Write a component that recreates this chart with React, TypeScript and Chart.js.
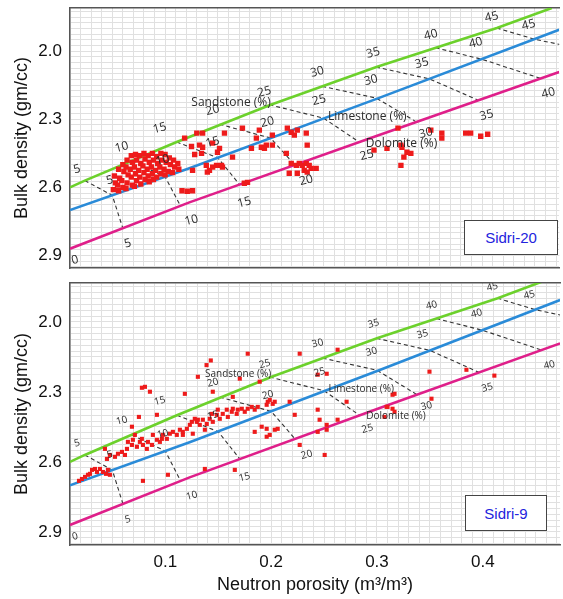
import React, { useEffect, useRef } from 'react';
import { Chart, registerables } from 'chart.js';

Chart.register(...registerables);
Chart.defaults.font.family = "'Liberation Sans', Arial, sans-serif";

// ---------- axes ----------
const X_MIN = 0.01;
const X_MAX = 0.473;
const TOP_Y_RANGE = [1.81, 2.955];
const BOTTOM_Y_RANGE = [1.833, 2.956];
const X_TICK_LABELS = [0.1, 0.2, 0.3, 0.4];
const X_MAJOR_GRID = [0.05, 0.1, 0.15, 0.2, 0.25, 0.3, 0.35, 0.4, 0.45];
const Y_TICK_LABELS = [2.0, 2.3, 2.6, 2.9];
const Y_MAJOR_GRID = [1.9, 2.0, 2.1, 2.2, 2.3, 2.4, 2.5, 2.6, 2.7, 2.8, 2.9];
const X_MINOR_STEP = 0.01;
const Y_MINOR_STEP = 0.025;

// ---------- lithology lines ----------
const SANDSTONE_LINE_X = [0.01, 0.024, 0.111, 0.2, 0.3, 0.414, 0.466];
const SANDSTONE_LINE_Y = [2.6, 2.57, 2.4, 2.236, 2.07, 1.898, 1.81];
const LIMESTONE_LINE_X = [0.01, 0.123, 0.302, 0.473];
const LIMESTONE_LINE_Y = [2.7, 2.516, 2.207, 1.906];
const DOLOMITE_LINE_X = [0.01, 0.123, 0.302, 0.473];
const DOLOMITE_LINE_Y = [2.87, 2.666, 2.37, 2.092];

// ---------- iso-porosity points ----------
const POROSITY = [5, 10, 15, 20, 25, 30, 35, 40, 45];
const ISO_SAND_X = [0.024, 0.0685, 0.111, 0.1515, 0.1987, 0.2487, 0.2996, 0.356, 0.4138];
const ISO_SAND_Y = [2.57, 2.485, 2.4, 2.322, 2.236, 2.155, 2.07, 1.985, 1.898];
const ISO_LIME_X = [0.05, 0.1, 0.15, 0.2, 0.25, 0.3, 0.35, 0.4, 0.45];
const ISO_LIME_Y = [2.635, 2.553, 2.47, 2.383, 2.295, 2.207, 2.122, 2.036, 1.948];
const ISO_DOLO_X = [0.06, 0.1138, 0.17, 0.222, 0.2836, 0.338, 0.397, 0.456, 0.52];
const ISO_DOLO_Y = [2.78, 2.675, 2.585, 2.498, 2.4, 2.312, 2.217, 2.121, 2.015];

// ---------- scale labels ----------
const SAND_LABEL_X = [0.0166, 0.059, 0.0949, 0.1449, 0.194, 0.244, 0.2968, 0.3515, 0.409];
const SAND_LABEL_Y = [2.52, 2.423, 2.339, 2.26, 2.18, 2.092, 2.008, 1.929, 1.85];
const LIME_LABEL_X = [0.0477, 0.0977, 0.1449, 0.1968, 0.2458, 0.2949, 0.343, 0.394, 0.444];
const LIME_LABEL_Y = [2.569, 2.48, 2.401, 2.313, 2.216, 2.128, 2.053, 1.964, 1.885];
const DOLO_LABEL_TEXT = ['0', '5', '10', '15', '20', '25', '30', '35', '40'];
const DOLO_LABEL_X = [0.0147, 0.0647, 0.125, 0.175, 0.2336, 0.291, 0.3468, 0.4043, 0.4628];
const DOLO_LABEL_Y = [2.92, 2.847, 2.745, 2.666, 2.569, 2.458, 2.361, 2.282, 2.185];
const LITHO_NAMES = ['Sandstone (%)', 'Limestone (%)', 'Dolomite (%)'];
const LITHO_X = [0.2, 0.2542, 0.2899];
const LITHO_Y = [2.225, 2.287, 2.405];
const LITHO_ALIGN = ['right', 'left', 'left'];

// ---------- samples: Sidri-20 ----------
const SIDRI20_X = [
  0.052, 0.053, 0.051,
  0.056, 0.057, 0.055, 0.056,
  0.060, 0.061, 0.059, 0.060,
  0.064, 0.063, 0.065, 0.064, 0.063,
  0.068, 0.069, 0.067, 0.068, 0.069,
  0.072, 0.073, 0.071, 0.072, 0.073, 0.071,
  0.076, 0.077, 0.075, 0.076, 0.077,
  0.080, 0.081, 0.079, 0.080, 0.081,
  0.084, 0.085, 0.083, 0.084, 0.085,
  0.088, 0.089, 0.087, 0.088, 0.089,
  0.092, 0.093, 0.091, 0.092,
  0.096, 0.097, 0.095, 0.096,
  0.100, 0.101, 0.099, 0.100,
  0.104, 0.105, 0.103,
  0.108, 0.109, 0.107,
  0.112, 0.113,
  0.116, 0.121, 0.126,
  0.1185, 0.130, 0.1355, 0.1326, 0.1355, 0.1345, 0.145, 0.1515, 0.1496, 0.1562,
  0.126, 0.139, 0.142, 0.145, 0.1487, 0.1534, 0.1543, 0.140, 0.125, 0.128,
  0.1638, 0.1732, 0.1817, 0.1864, 0.1892, 0.1911, 0.194, 0.1958, 0.2015, 0.2015,
  0.2157, 0.2194, 0.2223, 0.2251, 0.2336, 0.2345, 0.2147,
  0.2194, 0.2242, 0.227, 0.2298, 0.2336, 0.2364, 0.2383, 0.243, 0.2175, 0.2251, 0.2317, 0.2345,
  0.175, 0.178,
  0.2977, 0.31, 0.3204, 0.3232, 0.3242, 0.3232, 0.326, 0.3289, 0.3326,
  0.3515, 0.3619, 0.3619, 0.3845, 0.3892, 0.3987, 0.4053,
];
const SIDRI20_Y = [
  2.55, 2.58, 2.61,
  2.52, 2.56, 2.59, 2.615,
  2.50, 2.53, 2.57, 2.60,
  2.48, 2.51, 2.545, 2.58, 2.605,
  2.46, 2.49, 2.52, 2.555, 2.59,
  2.455, 2.48, 2.51, 2.54, 2.57, 2.595,
  2.46, 2.495, 2.525, 2.555, 2.585,
  2.45, 2.475, 2.505, 2.535, 2.565,
  2.46, 2.49, 2.52, 2.55, 2.575,
  2.45, 2.48, 2.51, 2.54, 2.565,
  2.465, 2.495, 2.525, 2.555,
  2.45, 2.48, 2.51, 2.54,
  2.455, 2.49, 2.52, 2.545,
  2.47, 2.50, 2.53,
  2.48, 2.51, 2.535,
  2.495, 2.52,
  2.615, 2.617, 2.615,
  2.383, 2.361, 2.361, 2.414, 2.423, 2.45, 2.405, 2.428, 2.445, 2.361,
  2.525, 2.503, 2.525, 2.511, 2.503, 2.503, 2.511, 2.533, 2.42, 2.455,
  2.467, 2.339, 2.428, 2.383, 2.348, 2.423, 2.428, 2.414, 2.414, 2.37,
  2.339, 2.357, 2.37, 2.348, 2.361, 2.414, 2.45,
  2.494, 2.503, 2.494, 2.503, 2.494, 2.503, 2.516, 2.516, 2.538, 2.538, 2.525, 2.533,
  2.582, 2.578,
  2.436, 2.428, 2.339, 2.414, 2.423, 2.503, 2.467, 2.445, 2.45,
  2.348, 2.361, 2.383, 2.361, 2.361, 2.375, 2.366,
];

// ---------- samples: Sidri-9 ----------
const SIDRI9_X = [
  0.0185, 0.0213, 0.0242, 0.027, 0.0289, 0.0308, 0.0336, 0.0355, 0.0383, 0.0411, 0.044, 0.0458, 0.0477,
  0.0449, 0.0477, 0.0525, 0.043, 0.0553, 0.0591, 0.0619, 0.0638, 0.0647, 0.0685, 0.0694, 0.0713, 0.0732,
  0.076, 0.0779, 0.0789, 0.0826, 0.0836, 0.0874, 0.0883, 0.0921, 0.0949, 0.0968, 0.0977, 0.1015, 0.1043,
  0.1072, 0.1109, 0.1138, 0.1166, 0.1204, 0.1232, 0.1251, 0.1279, 0.1308,
  0.0751, 0.0921, 0.0779, 0.0808, 0.0855, 0.0685, 0.1025, 0.0789, 0.1185, 0.1308,
  0.139, 0.143, 0.1779, 0.1704, 0.1449, 0.1638,
  0.1166, 0.126, 0.1298, 0.1326, 0.1355, 0.1374, 0.1392, 0.142, 0.144, 0.1449, 0.1487, 0.1496, 0.1515,
  0.1543, 0.1581, 0.1591, 0.1628, 0.1638, 0.1675, 0.1685, 0.1723, 0.1751, 0.1779, 0.1817, 0.1845, 0.1874,
  0.1958, 0.1968, 0.1987, 0.2015, 0.2034,
  0.2223, 0.2175, 0.1845, 0.1911, 0.1958, 0.1987, 0.1958, 0.2034, 0.2062,
  0.1374, 0.1657, 0.227, 0.2628, 0.2525, 0.227,
  0.244, 0.2458, 0.2525, 0.2525, 0.244, 0.2506, 0.2628, 0.244, 0.2713,
  0.3091, 0.3147, 0.3072, 0.1892,
  0.3166, 0.3147, 0.3166, 0.31, 0.3496, 0.3515, 0.3845, 0.4109,
];
const SIDRI9_Y = [
  2.681, 2.673, 2.664, 2.655, 2.651, 2.634, 2.63, 2.643, 2.63, 2.643, 2.651, 2.634, 2.655,
  2.587, 2.57, 2.578, 2.544, 2.565, 2.557, 2.57, 2.544, 2.514, 2.527, 2.505, 2.484, 2.535,
  2.514, 2.501, 2.527, 2.544, 2.514, 2.527, 2.484, 2.505, 2.514, 2.501, 2.484, 2.501, 2.479,
  2.471, 2.484, 2.462, 2.471, 2.458, 2.441, 2.428, 2.415, 2.419,
  2.407, 2.398, 2.282, 2.278, 2.299, 2.449, 2.655, 2.681, 2.308, 2.235,
  2.185, 2.165, 2.136, 2.243, 2.299, 2.321,
  2.484, 2.479, 2.428, 2.441, 2.419, 2.462, 2.437, 2.415, 2.394, 2.428, 2.398, 2.376, 2.415,
  2.394, 2.376, 2.407, 2.385, 2.372, 2.394, 2.376, 2.372, 2.385, 2.372, 2.364, 2.376, 2.364,
  2.355, 2.342, 2.334, 2.351, 2.342,
  2.398, 2.342, 2.471, 2.449, 2.458, 2.484, 2.492, 2.462, 2.458,
  2.63, 2.634, 2.136, 2.119, 2.222, 2.527,
  2.376, 2.419, 2.441, 2.462, 2.471, 2.57, 2.419, 2.226, 2.342,
  2.364, 2.312, 2.407, 2.256,
  2.308, 2.372, 2.385, 2.364, 2.213, 2.329, 2.205, 2.23,
];

const GREEN = '#6cd12c';
const BLUE = '#2a8bd8';
const MAGENTA = '#df1f8a';
const RED = '#ee1b1b';

type PanelSpec = {
  yRange: number[];
  xs: number[];
  ys: number[];
  pointRadius: number;
  padTop: number;
  padBottom: number;
  showX: boolean;
  numFont: number;
  lithoFont: number;
};

const pairs = (xs: number[], ys: number[]) => xs.map((x, i) => ({ x, y: ys[i] }));
const isIn = (list: number[], v: number) => list.some((t) => Math.abs(t - v) < 1e-6);

function labelPlugin(spec: PanelSpec) {
  return {
    id: 'isoLabels',
    afterDatasetsDraw(chart: any) {
      const { ctx, chartArea } = chart;
      const sx = chart.scales.x;
      const sy = chart.scales.y;
      ctx.save();
      ctx.beginPath();
      ctx.rect(chartArea.left, chartArea.top, chartArea.right - chartArea.left, chartArea.bottom - chartArea.top);
      ctx.clip();
      ctx.fillStyle = '#2b2b2b';
      ctx.textAlign = 'center';
      ctx.textBaseline = 'middle';
      ctx.font = `${spec.numFont}px 'Open Sans', sans-serif`;
      const put = (xs: number[], ys: number[], texts: string[]) => {
        xs.forEach((x, i) => {
          ctx.save();
          ctx.translate(sx.getPixelForValue(x), sy.getPixelForValue(ys[i]));
          ctx.rotate(-0.25);
          ctx.fillText(texts[i], 0, 0);
          ctx.restore();
        });
      };
      const porText = POROSITY.map(String);
      put(SAND_LABEL_X, SAND_LABEL_Y, porText);
      put(LIME_LABEL_X, LIME_LABEL_Y, porText);
      put(DOLO_LABEL_X, DOLO_LABEL_Y, DOLO_LABEL_TEXT);
      ctx.font = `${spec.lithoFont}px 'Open Sans', sans-serif`;
      LITHO_NAMES.forEach((name, i) => {
        ctx.textAlign = LITHO_ALIGN[i];
        ctx.fillText(name, sx.getPixelForValue(LITHO_X[i]), sy.getPixelForValue(LITHO_Y[i]));
      });
      ctx.restore();
    },
  };
}

function makePanel(canvas: HTMLCanvasElement, spec: PanelSpec) {
  const datasets: any[] = [];
  datasets.push({
    label: 'samples',
    data: pairs(spec.xs, spec.ys),
    pointStyle: 'rect',
    pointRadius: spec.pointRadius,
    pointHoverRadius: spec.pointRadius,
    backgroundColor: RED,
    borderColor: RED,
    borderWidth: 0,
    showLine: false,
    xAxisID: 'x',
    yAxisID: 'y',
  });
  const lines = [
    [SANDSTONE_LINE_X, SANDSTONE_LINE_Y, GREEN],
    [LIMESTONE_LINE_X, LIMESTONE_LINE_Y, BLUE],
    [DOLOMITE_LINE_X, DOLOMITE_LINE_Y, MAGENTA],
  ] as any[];
  lines.forEach(([lx, ly, c]) => {
    datasets.push({
      data: pairs(lx, ly),
      showLine: true,
      borderColor: c,
      borderWidth: 2.6,
      pointRadius: 0,
      tension: 0,
      clip: 0,
      xAxisID: 'x',
      yAxisID: 'y',
    });
  });
  POROSITY.forEach((_, i) => {
    datasets.push({
      data: [
        { x: ISO_SAND_X[i], y: ISO_SAND_Y[i] },
        { x: ISO_LIME_X[i], y: ISO_LIME_Y[i] },
        { x: ISO_DOLO_X[i], y: ISO_DOLO_Y[i] },
      ],
      showLine: true,
      borderColor: '#333333',
      borderWidth: 1.1,
      borderDash: [4, 3],
      pointRadius: 0,
      tension: 0,
      clip: 0,
      xAxisID: 'x',
      yAxisID: 'y',
    });
  });

  const noPadH = (s: any) => {
    s.paddingLeft = 0;
    s.paddingRight = 0;
  };
  const noPadV = (s: any) => {
    s.paddingTop = 0;
    s.paddingBottom = 0;
  };

  return new Chart(canvas, {
    type: 'scatter',
    data: { datasets },
    options: {
      animation: false,
      responsive: false,
      maintainAspectRatio: false,
      events: [],
      layout: { padding: { top: spec.padTop, bottom: spec.padBottom, left: 0, right: 0 } },
      plugins: { legend: { display: false }, tooltip: { enabled: false } },
      scales: {
        x: {
          type: 'linear',
          position: 'bottom',
          min: X_MIN,
          max: X_MAX,
          afterBuildTicks: (s: any) => {
            s.ticks = X_MAJOR_GRID.map((v) => ({ value: v }));
          },
          ticks: {
            display: spec.showX,
            autoSkip: false,
            maxRotation: 0,
            padding: 7,
            color: '#111',
            font: { size: 17 },
            callback: (v: any) => (isIn(X_TICK_LABELS, v) ? Number(v).toFixed(1) : ''),
          },
          grid: { color: '#b9b9b9', lineWidth: 1, drawTicks: false },
          border: { display: true, color: '#555', width: 1.5 },
          title: {
            display: spec.showX,
            text: 'Neutron porosity (m³/m³)',
            color: '#111',
            font: { size: 18 },
            padding: { top: 0, bottom: 3 },
          },
          afterFit: (s: any) => {
            s.height = spec.showX ? 54 : 0;
            noPadH(s);
          },
        },
        y: {
          type: 'linear',
          position: 'left',
          reverse: true,
          min: spec.yRange[0],
          max: spec.yRange[1],
          afterBuildTicks: (s: any) => {
            s.ticks = Y_MAJOR_GRID.map((v) => ({ value: v }));
          },
          ticks: {
            autoSkip: false,
            padding: 8,
            color: '#111',
            font: { size: 17 },
            callback: (v: any) => (isIn(Y_TICK_LABELS, v) ? Number(v).toFixed(1) : ''),
          },
          grid: { color: '#b9b9b9', lineWidth: 1, drawTicks: false },
          border: { display: true, color: '#555', width: 1.5 },
          title: {
            display: true,
            text: 'Bulk density (gm/cc)',
            color: '#111',
            font: { size: 18 },
            padding: { top: 11, bottom: 0 },
          },
          afterFit: (s: any) => {
            s.width = 70;
            noPadV(s);
          },
        },
        xMinor: {
          type: 'linear',
          position: 'top',
          z: -1,
          min: X_MIN,
          max: X_MAX,
          afterBuildTicks: (s: any) => {
            const t: any[] = [];
            for (let k = 1; k * X_MINOR_STEP < X_MAX; k++) t.push({ value: k * X_MINOR_STEP });
            s.ticks = t;
          },
          ticks: { display: false },
          grid: { color: '#e0e0e0', lineWidth: 1, drawTicks: false },
          border: { display: true, color: '#555', width: 1.5 },
          afterFit: (s: any) => {
            s.height = 0;
            noPadH(s);
          },
        },
        yMinor: {
          type: 'linear',
          position: 'right',
          z: -1,
          reverse: true,
          min: spec.yRange[0],
          max: spec.yRange[1],
          afterBuildTicks: (s: any) => {
            const t: any[] = [];
            for (let k = 72; k * Y_MINOR_STEP < spec.yRange[1]; k++) {
              const v = k * Y_MINOR_STEP;
              if (v > spec.yRange[0]) t.push({ value: v });
            }
            s.ticks = t;
          },
          ticks: { display: false },
          grid: { color: '#e0e0e0', lineWidth: 1, drawTicks: false },
          border: { display: false },
          afterFit: (s: any) => {
            s.width = 0;
            noPadV(s);
          },
        },
      },
    } as any,
    plugins: [labelPlugin(spec)],
  });
}

const boxStyle = (left: number, top: number, w: number, h: number): React.CSSProperties => ({
  position: 'absolute',
  left,
  top,
  width: w,
  height: h,
  boxSizing: 'border-box',
  border: '1.5px solid #444',
  background: '#fff',
  color: '#2323dd',
  fontFamily: "'Liberation Sans', Arial, sans-serif",
  fontSize: 15,
  display: 'flex',
  alignItems: 'center',
  justifyContent: 'center',
});

export default function App() {
  const topRef = useRef<HTMLCanvasElement>(null);
  const botRef = useRef<HTMLCanvasElement>(null);

  useEffect(() => {
    const c1 = makePanel(topRef.current as HTMLCanvasElement, {
      yRange: TOP_Y_RANGE,
      xs: SIDRI20_X,
      ys: SIDRI20_Y,
      pointRadius: 3.8,
      padTop: 8,
      padBottom: 8,
      showX: false,
      numFont: 12,
      lithoFont: 12,
    });
    const c2 = makePanel(botRef.current as HTMLCanvasElement, {
      yRange: BOTTOM_Y_RANGE,
      xs: SIDRI9_X,
      ys: SIDRI9_Y,
      pointRadius: 2.9,
      padTop: 7,
      padBottom: 0,
      showX: true,
      numFont: 10,
      lithoFont: 10,
    });
    return () => {
      c1.destroy();
      c2.destroy();
    };
  }, []);

  return (
    <div style={{ position: 'absolute', left: 0, top: 0, width: 563, height: 599, background: '#fff', overflow: 'hidden' }}>
      <canvas ref={topRef} width={563} height={276} style={{ position: 'absolute', left: 0, top: 0, width: 563, height: 276 }} />
      <canvas ref={botRef} width={563} height={323} style={{ position: 'absolute', left: 0, top: 276, width: 563, height: 323 }} />
      <div style={boxStyle(464, 220, 94, 35)}>Sidri-20</div>
      <div style={boxStyle(465, 495, 82, 36)}>Sidri-9</div>
    </div>
  );
}
